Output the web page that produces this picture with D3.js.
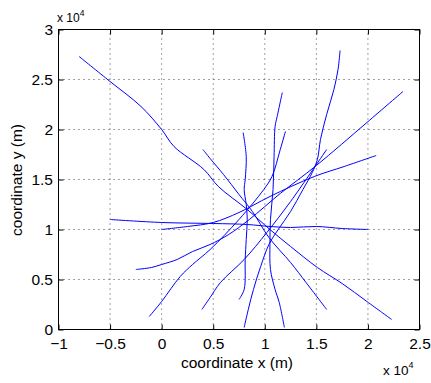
<!DOCTYPE html>
<html>
<head>
<meta charset="utf-8">
<script src="https://cdnjs.cloudflare.com/ajax/libs/d3/7.8.5/d3.min.js"></script>
<style>
  body { margin: 0; background: #fff; }
  text { font-family: "Liberation Sans", Arial, Helvetica, sans-serif; }
</style>
</head>
<body>
<div id="chart"></div>
<script>
// tick values (metres) and the labels shown next to them (x 10^4)
const xTicks = [-10000, -5000, 0, 5000, 10000, 15000, 20000, 25000];
const xTickLabels = ['\u22121', '\u22120.5', '0', '0.5', '1', '1.5', '2', '2.5'];
const yTicks = [0, 5000, 10000, 15000, 20000, 25000, 30000];
const yTickLabels = ['0', '0.5', '1', '1.5', '2', '2.5', '3'];

// trajectories, [x, y] in metres
const track1 = [[-8000, 27300], [-5000, 24800], [-2000, 22300], [0, 20000], [1200, 18300], [4100, 16000],
  [5500, 14300], [8300, 12000], [10500, 10000], [12500, 8300], [15100, 6200], [17500, 4600], [19900, 2800], [22300, 1000]];
const track2 = [[4000, 18000], [4700, 17100], [6000, 15500], [7500, 13500], [8800, 11800], [10400, 9200],
  [12500, 6700], [14000, 4700], [16000, 2000]];
const track3 = [[7900, 19700], [8200, 17300], [8100, 15000], [8000, 14000], [8200, 12500], [8300, 11000],
  [8200, 9000], [8100, 7000], [8000, 4000], [7500, 3000]];
const track4 = [[11700, 23700], [11200, 21300], [11000, 20300], [10900, 17300], [10800, 14000], [10550, 11000],
  [10500, 8500], [10550, 6000], [11000, 4000], [11400, 2700], [11900, 200]];
const track5 = [[17300, 27900], [17100, 26000], [16700, 24000], [16000, 21500], [15400, 19000], [15100, 17000],
  [14600, 15700], [13700, 14000], [12500, 11800], [11300, 10000], [10400, 8500], [9600, 6300], [8900, 4000], [8400, 2000], [8000, 200]];
const track6 = [[-2500, 6000], [-1000, 6200], [0, 6500], [1500, 7000], [3000, 7800], [4700, 8500], [6500, 9500],
  [8500, 11000], [11500, 13600], [15000, 16400], [19900, 20700], [23400, 23800]];
const track7 = [[-1200, 1300], [0, 2800], [1800, 5300], [3000, 6500], [4700, 8000], [7500, 11000], [9900, 14000],
  [10700, 15300], [11500, 18000], [12000, 19800]];
const track8 = [[0, 10000], [2500, 10300], [5000, 10700], [7500, 11700], [10500, 13300], [14800, 15300],
  [17700, 16300], [20800, 17400]];
const track9 = [[3900, 2000], [4700, 3200], [5700, 4700], [8000, 7000], [10200, 9700], [12500, 12800], [16000, 18000]];
const track10 = [[-5000, 11000], [0, 10700], [5000, 10600], [8300, 10500], [10500, 10300], [12500, 10200],
  [15000, 10300], [17500, 10100], [20000, 10000]];
const tracks = [track1, track2, track3, track4, track5, track6, track7, track8, track9, track10];

const width = 431, height = 383;
const margin = { top: 29.5, right: 11.5, bottom: 53.5, left: 58.5 };

const x = d3.scaleLinear().domain([-10000, 25000]).range([margin.left, width - margin.right]);
const y = d3.scaleLinear().domain([0, 30000]).range([height - margin.bottom, margin.top]);

const svg = d3.select('#chart').append('svg')
  .attr('width', width)
  .attr('height', height);

// dotted grid
svg.append('g').selectAll('line')
  .data(xTicks.slice(1, -1))
  .enter().append('line')
  .attr('x1', d => x(d)).attr('x2', d => x(d))
  .attr('y1', y(0)).attr('y2', y(30000))
  .attr('stroke', '#444').attr('stroke-dasharray', '1,4');

svg.append('g').selectAll('line')
  .data(yTicks.slice(1, -1))
  .enter().append('line')
  .attr('x1', x(-10000)).attr('x2', x(25000))
  .attr('y1', d => y(d)).attr('y2', d => y(d))
  .attr('stroke', '#444').attr('stroke-dasharray', '1,4');

// trajectories
const line = d3.line()
  .x(d => x(d[0]))
  .y(d => y(d[1]))
  .curve(d3.curveCatmullRom.alpha(0.5));

svg.append('g').selectAll('path')
  .data(tracks)
  .enter().append('path')
  .attr('d', line)
  .attr('fill', 'none')
  .attr('stroke', '#0000ff')
  .attr('stroke-width', 1);

// axes, ticks pointing inward on all four sides
const fontSize = '15.5px';
const axBottom = svg.append('g')
  .attr('transform', 'translate(0,' + y(0) + ')')
  .call(d3.axisBottom(x).tickValues(xTicks).tickFormat((d, i) => xTickLabels[i])
    .tickSizeInner(-5).tickSizeOuter(0).tickPadding(8.5));
const axLeft = svg.append('g')
  .attr('transform', 'translate(' + x(-10000) + ',0)')
  .call(d3.axisLeft(y).tickValues(yTicks).tickFormat((d, i) => yTickLabels[i])
    .tickSizeInner(-5).tickSizeOuter(0).tickPadding(5.5));
const axTop = svg.append('g')
  .attr('transform', 'translate(0,' + y(30000) + ')')
  .call(d3.axisTop(x).tickValues(xTicks).tickFormat('').tickSizeInner(-5).tickSizeOuter(0));
const axRight = svg.append('g')
  .attr('transform', 'translate(' + x(25000) + ',0)')
  .call(d3.axisRight(y).tickValues(yTicks).tickFormat('').tickSizeInner(-5).tickSizeOuter(0));

[axBottom, axLeft, axTop, axRight].forEach(g => {
  g.select('.domain').remove();
  g.selectAll('line').attr('stroke', '#000');
  g.selectAll('text').attr('font-size', fontSize).attr('fill', '#000')
    .attr('font-family', '"Liberation Sans", Arial, Helvetica, sans-serif');
});

// box
svg.append('rect')
  .attr('x', x(-10000)).attr('y', y(30000))
  .attr('width', x(25000) - x(-10000))
  .attr('height', y(0) - y(30000))
  .attr('fill', 'none')
  .attr('stroke', '#000');

// axis labels
svg.append('text')
  .attr('x', 237).attr('y', 368)
  .attr('text-anchor', 'middle')
  .attr('font-size', fontSize)
  .text('coordinate x (m)');

svg.append('text')
  .attr('transform', 'translate(22,180) rotate(-90)')
  .attr('text-anchor', 'middle')
  .attr('font-size', fontSize)
  .text('coordinate y (m)');

// exponent notes
const expTop = svg.append('text').attr('x', 57).attr('y', 22).attr('font-size', '12px');
expTop.append('tspan').text('x 10');
expTop.append('tspan').attr('font-size', '8.5px').attr('dy', -6).text('4');

const expBottom = svg.append('text').attr('x', 383).attr('y', 375).attr('font-size', '13.5px');
expBottom.append('tspan').text('x 10');
expBottom.append('tspan').attr('font-size', '9px').attr('dy', -7).text('4');
</script>
</body>
</html>
